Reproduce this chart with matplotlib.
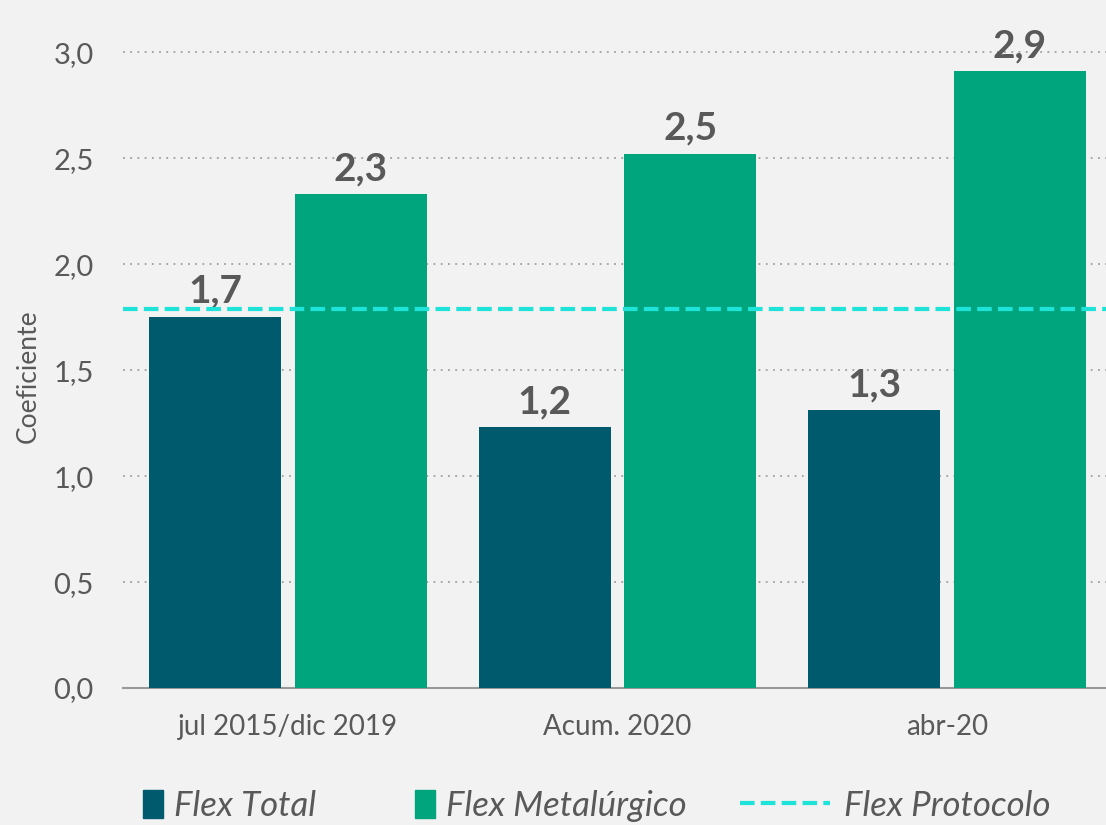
import matplotlib
matplotlib.use("Agg")
import matplotlib.pyplot as plt
from matplotlib.patches import Patch
from matplotlib.lines import Line2D
from matplotlib.ticker import FuncFormatter
import numpy as np

# data
categories = ["jul 2015/dic 2019", "Acum. 2020", "abr-20"]
flex_total = [1.75, 1.23, 1.31]
flex_metal = [2.33, 2.52, 2.91]
flex_protocolo = 1.79
series_names = ["Flex Total", "Flex Metalúrgico", "Flex Protocolo"]

c_total = "#005a6e"
c_metal = "#00a57e"
c_proto = "#1de3d8"
c_text = "#595959"
bg = "#f2f2f2"
dash = (0, (3.5, 1.5))

plt.rcParams['font.family'] = ['Lato', 'DejaVu Sans']

fig = plt.figure(figsize=(11.06, 8.25), dpi=100, facecolor=bg)
ax = fig.add_axes([123 / 1106, 137 / 825, 989 / 1106, 678 / 825])
ax.set_facecolor(bg)

x = np.arange(len(categories))
w = 0.4
off = 0.221
b1 = ax.bar(x - off, flex_total, w, color=c_total, zorder=3)
b2 = ax.bar(x + off, flex_metal, w, color=c_metal, zorder=3)
ax.axhline(flex_protocolo, color=c_proto, ls=dash, lw=3, zorder=4)


def lab(v):
    return f"{np.floor(v * 10) / 10:.1f}".replace('.', ',')


for bars, vals in ((b1, flex_total), (b2, flex_metal)):
    ax.bar_label(bars, labels=[lab(v) for v in vals], padding=6,
                 fontsize=28, fontweight='bold', color=c_text)

ax.set_xlim(-0.5, 2.5)
ax.set_ylim(0, 3.2)
ax.set_yticks(np.arange(0, 3.01, 0.5))
ax.yaxis.set_major_formatter(FuncFormatter(lambda v, p: f"{v:.1f}".replace('.', ',')))
ax.set_xticks(x)
ax.set_xticklabels(categories)
ax.tick_params(axis='both', length=0, colors=c_text)
ax.tick_params(axis='x', pad=19, labelsize=20)
ax.tick_params(axis='y', pad=21, labelsize=21)
ax.grid(axis='y', ls=(0, (1, 3)), color='#a0a0a0', lw=1.3, zorder=0)

for s in ('top', 'right', 'left'):
    ax.spines[s].set_visible(False)
ax.spines['bottom'].set_color('#999999')
ax.spines['bottom'].set_linewidth(1.5)

ax.set_ylabel("Coeficiente", fontsize=19, color=c_text)
ax.yaxis.set_label_coords(-0.083, 0.46)

# legend, one entry at a time
leg_x = [143, 415, 740]
handles = [Patch(color=c_total), Patch(color=c_metal),
           Line2D([], [], color=c_proto, ls=dash, lw=3)]
hlen = [0.58, 0.58, 2.6]
hpad = [0.3, 0.3, 0.4]
for h, name, lx, hl, hp in zip(handles, series_names, leg_x, hlen, hpad):
    leg = fig.legend([h], [name], loc='center left',
                     bbox_to_anchor=(lx / 1106, 1 - 806 / 825), frameon=False,
                     prop={'size': 25, 'style': 'italic'}, handlelength=hl,
                     handleheight=0.85, handletextpad=hp, borderpad=0,
                     borderaxespad=0)
    for t in leg.get_texts():
        t.set_color(c_text)

fig.savefig("out.png", dpi=100, facecolor=bg)
